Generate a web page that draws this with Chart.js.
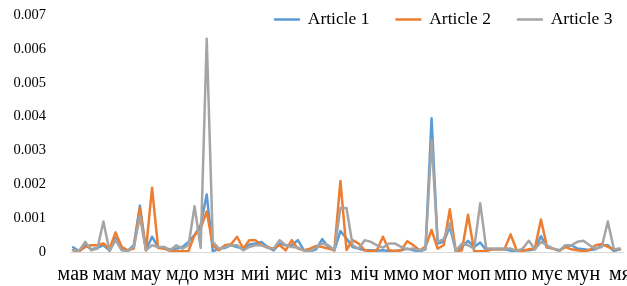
<!DOCTYPE html>
<html><head><meta charset="utf-8">
<script src="https://cdn.jsdelivr.net/npm/chart.js@4.4.1/dist/chart.umd.min.js"></script>
<style>html,body{margin:0;padding:0;background:#fff;} #wrap{width:627px;height:286px;}</style>
</head><body><div id="wrap"><canvas id="c" width="627" height="286"></canvas></div>
<script>
const tickLabels = ['мав','мам','мау','мдо','мзн','миі','мис','міз','міч','ммо','мог','моп','мпо','мує','мун','мя'];
const seriesNames = ['Article 1','Article 2','Article 3'];
const article1 = [0.00014,0.00003,0.0002,0.00008,0.00012,0.0002,0.00005,0.00042,0.0001,0.00003,
 0.0002,0.00137,0.00005,0.00045,0.00015,0.0001,0.00008,0.0001,0.00015,0.0003,
 0.0005,0.0008,0.0017,0.00002,0.0001,0.00012,0.0002,0.00015,0.0001,0.00022,
 0.00025,0.0003,0.00015,0.00005,0.00025,0.0002,0.0002,0.00035,0.00005,0.00002,
 0.00008,0.00038,0.00015,0.00005,0.00062,0.0004,0.00015,0.0001,0.00005,0.00005,
 0.00004,0.00005,0.00003,0.00003,0.00005,0.0001,0.00005,0.00002,0.00008,0.00395,
 0.00025,0.0003,0.00075,0.00002,0.00015,0.00033,0.00015,0.00028,0.00005,0.00008,
 0.00008,0.00008,0.00004,0.00003,0.00005,0.00005,0.00008,0.00047,0.00013,0.0001,
 0.00005,0.00015,0.0002,0.0001,0.00008,0.00006,0.00008,0.0002,0.0002,0.00003,
 0.00008];
const article2 = [0.00005,0.00002,0.00015,0.0002,0.0002,0.00025,0.0001,0.00058,0.00015,0.00005,
 0.0001,0.0013,0.00005,0.0019,0.00012,0.0001,0.00003,0.00003,0.00002,0.00003,
 0.0005,0.0007,0.0012,0.0002,0.00005,0.0002,0.00023,0.00045,0.0001,0.00035,
 0.00035,0.0002,0.00015,0.0001,0.0002,0.00005,0.00035,0.0001,0.00005,0.0001,
 0.00018,0.00015,0.0001,0.00005,0.0021,0.00006,0.00035,0.00025,0.00005,0.00002,
 0.00005,0.00045,0.00005,0.00003,0.00005,0.00032,0.0002,0.00005,0.00015,0.00065,
 0.0001,0.0002,0.00126,0.00002,0.00005,0.0011,0.00003,0.00002,0.00003,0.00008,
 0.00008,0.00008,0.00052,0.00005,0.00003,0.00008,0.0001,0.00096,0.00014,0.0001,
 0.00003,0.00015,0.00008,0.00005,0.00002,0.00006,0.0002,0.00024,0.00015,0.00008,
 0.00008];
const article3 = [0.00006,0.00003,0.0003,0.00005,0.0001,0.0009,0.00002,0.00035,0.00005,0.00003,
 0.00015,0.00105,0.00005,0.0002,0.00015,0.00015,0.00005,0.0002,0.0001,0.0002,
 0.00135,0.00012,0.0063,0.0003,0.0001,0.00015,0.0002,0.0002,0.00005,0.00015,
 0.0002,0.0002,0.00012,0.0001,0.00035,0.0002,0.00015,0.00013,0.00005,0.00003,
 0.00013,0.00025,0.0002,0.00005,0.0013,0.0013,0.0002,0.0001,0.00035,0.0003,
 0.0002,0.00013,0.00025,0.00025,0.00015,0.00008,0.0001,0.00005,0.0001,0.0033,
 0.0003,0.00038,0.00085,0.00003,0.00025,0.0002,0.0001,0.00144,0.0001,0.0001,
 0.0001,0.0001,0.0001,0.00003,0.0001,0.00033,0.00008,0.0003,0.0002,0.0001,
 0.00003,0.0002,0.0002,0.0003,0.00033,0.0002,0.0001,0.00015,0.0009,0.00008,
 0.0001];
const labelEvery = 6;
const categories = article1.map((_, i) => (i % labelEvery === 0 ? (tickLabels[i / labelEvery] || '') : ''));

Chart.defaults.font.family = "'Liberation Serif', 'Times New Roman', serif";
Chart.defaults.color = '#000';

const legendPlacer = {
  id: 'legendPlacer',
  afterInit(chart) {
    const lg = chart.legend;
    const fit = lg.fit;
    lg.fit = function () { fit.call(this); this.height = 0; };
  },
  afterLayout(chart) {
    const lg = chart.legend;
    const p = lg.options.labels.padding;
    lg.left = 275 - p;
    lg.right = 900;
    lg.top = 10.75 - p;
    lg.bottom = 60;
    lg.height = lg.bottom - lg.top;
  }
};

function ds(label, data, color, order) {
  return { label, data, borderColor: color, backgroundColor: color, borderWidth: 2.5,
    pointRadius: 0, pointHoverRadius: 0, tension: 0, fill: false,
    borderJoinStyle: 'round', borderCapStyle: 'round', order };
}

new Chart(document.getElementById('c'), {
  type: 'line',
  data: {
    labels: categories,
    datasets: [
      ds(seriesNames[0], article1, '#5B9BD5', 2),
      ds(seriesNames[1], article2, '#ED7D31', 1),
      ds(seriesNames[2], article3, '#A5A5A5', 0)
    ]
  },
  options: {
    responsive: false,
    animation: false,
    devicePixelRatio: 1,
    layout: { padding: { top: 15, right: 4, bottom: 0, left: 0 } },
    plugins: {
      tooltip: { enabled: false },
      legend: {
        position: 'top',
        align: 'start',
        labels: {
          boxWidth: 24, boxHeight: 0, padding: 27, color: '#000',
          font: { size: 17.5 },
          sort: (a, b) => a.datasetIndex - b.datasetIndex
        }
      }
    },
    scales: {
      x: {
        type: 'category',
        offset: true,
        grid: { display: false, drawTicks: false },
        border: { display: true, color: '#D9D9D9', width: 1 },
        ticks: { autoSkip: false, maxRotation: 0, minRotation: 0, padding: 11, color: '#000', font: { size: 20 } },
        afterFit(s) { s.height = 34; s.paddingLeft = 0; s.paddingRight = 0; }
      },
      y: {
        min: 0, max: 0.007,
        grid: { display: false, drawTicks: false },
        border: { display: false },
        ticks: { stepSize: 0.001, padding: 24, color: '#000', font: { size: 14.5 },
          callback: v => (v === 0 ? '0' : Number(v).toFixed(3)) },
        afterFit(s) { s.width = 70; s.paddingTop = 0; s.paddingBottom = 0; }
      }
    }
  },
  plugins: [legendPlacer]
});
</script>
</body></html>
